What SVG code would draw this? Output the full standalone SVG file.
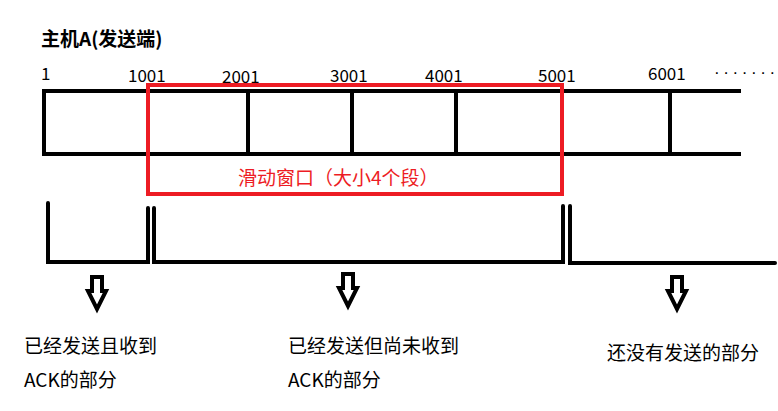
<svg xmlns="http://www.w3.org/2000/svg" width="778" height="411" viewBox="0 0 778 411">
<style>
.t{font-family:"Noto Sans CJK SC","Liberation Sans",sans-serif;fill:#000}
.n{font-size:17px}
.c{font-size:19px}
.k{fill:none;stroke:#000;stroke-width:4;stroke-linecap:square}
.br{fill:none;stroke:#000;stroke-width:4;stroke-linecap:round;stroke-linejoin:miter}
.ar{fill:none;stroke:#000;stroke-width:4;stroke-linejoin:miter}
</style>
<defs>
<path id="harrow" d="M-5,2 H5 V16 H9 L0,34 L-9,16 H-5 Z"/>
</defs>
<rect width="778" height="411" fill="#fff"/>
<g id="title"><text class="t" x="41" y="46" font-size="19" font-weight="bold">主机A(发送端)</text></g>
<g id="buffer">
<path class="k" d="M44,91 H739 M44,154 H739 M44,91 V154 M248,91 V154 M352,91 V154 M456,91 V154 M670,91 V154 M148,91 V154"/>
</g>
<g id="labels">
<text class="t n" x="41" y="80">1</text>
<text class="t n" x="128" y="82">1001</text>
<text class="t n" x="222" y="83">2001</text>
<text class="t n" x="330" y="82">3001</text>
<text class="t n" x="425" y="82">4001</text>
<text class="t n" x="538" y="82">5001</text>
<text class="t n" x="648" y="80">6001</text>
<text x="714" y="78" font-family="Liberation Sans,sans-serif" font-size="17" letter-spacing="3.6">·······</text>
</g>
<g id="window">
<rect x="148" y="85" width="414" height="109" fill="none" stroke="#ed1c24" stroke-width="4"/>
<text class="t c" x="238" y="185" fill="#ed1c24" style="fill:#ed1c24">滑动窗口（大小4个段）</text>
</g>
<g id="connectors">
<path class="br" d="M48,203 V262 H148 V208"/>
<path class="br" d="M154,208 V262 H563 V206"/>
<path class="br" d="M570,206 V263 H775"/>
<use href="#harrow" class="ar" x="97" y="275"/>
<use href="#harrow" class="ar" x="348" y="272"/>
<use href="#harrow" class="ar" x="677" y="275"/>
</g>
<g id="part1">
<text class="t c" x="24" y="353">已经发送且收到</text>
<text class="t c" x="24" y="387">ACK的部分</text>
</g>
<g id="part2">
<text class="t c" x="288" y="353">已经发送但尚未收到</text>
<text class="t c" x="288" y="387">ACK的部分</text>
</g>
<g id="part3">
<text class="t c" x="607" y="360">还没有发送的部分</text>
</g>
</svg>
